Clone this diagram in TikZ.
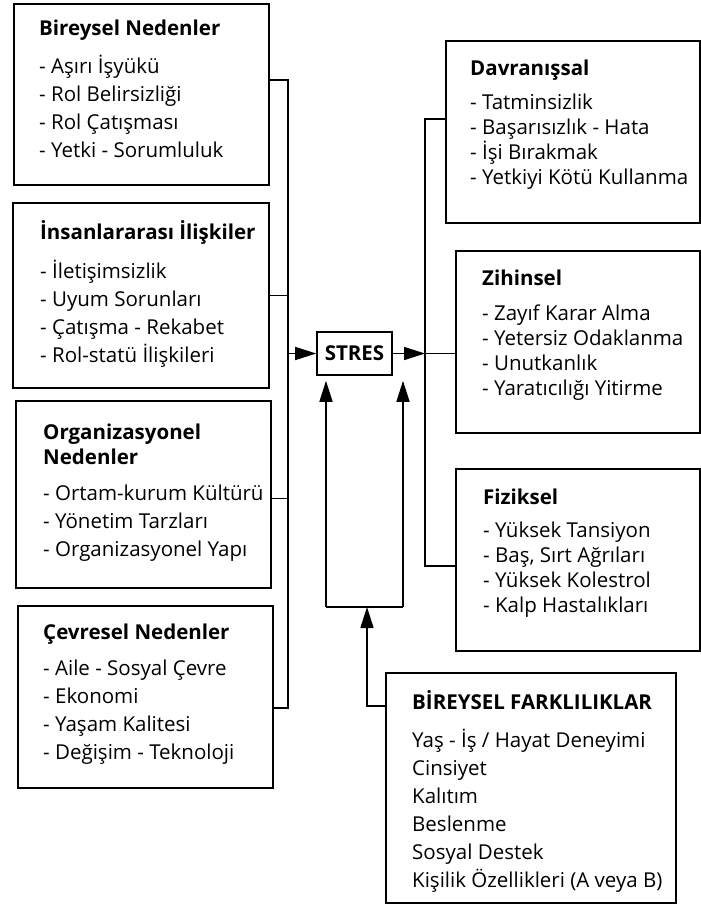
\documentclass[tikz,border=0pt]{standalone}
\usepackage{fontspec}
\setmainfont{Open Sans}
\usetikzlibrary{arrows.meta}

\begin{document}
\begin{tikzpicture}
      [%%%%%%%%%%%%%%%%%%%%%%%%%%%%%%
      x=1pt,y=-1pt,
      box/.style={rectangle,draw=black,line width=1.6pt,anchor=north west,inner sep=0pt},
      txt/.style={anchor=north west,align=left,inner sep=0pt,
        font=\fontsize{20.5}{28}\selectfont,execute at begin node={\rule{0pt}{19pt}}},
      txtr/.style={txt,font=\fontsize{20.5}{25}\selectfont},
      line/.style={draw=black,line width=1.6pt},
      arr/.style={line,-{Triangle[length=21pt,width=13pt]}},
      ]%%%%%%%%%%%%%%%%%%%%%%%%%%%%%%
      \useasboundingbox (0,0) rectangle (701,906);

      \node[box,minimum width=255pt,minimum height=181pt] (bireysel) at (13,3) {};
      \node[box,minimum width=256pt,minimum height=185pt] (insan) at (12,202) {};
      \node[box,minimum width=255pt,minimum height=187pt] (org) at (15,400) {};
      \node[box,minimum width=255pt,minimum height=182pt] (cevre) at (17,605) {};

      \node[box,minimum width=254pt,minimum height=182pt] (davr) at (445,40) {};
      \node[box,minimum width=244pt,minimum height=182pt] (zihin) at (455,250) {};
      \node[box,minimum width=244pt,minimum height=182pt] (fizik) at (455,468) {};
      \node[box,minimum width=290pt,minimum height=230pt] (fark) at (385,672) {};

      \node[box,anchor=center,minimum width=75pt,minimum height=43pt,
        font=\bfseries\fontsize{20.5}{24}\selectfont] (stres) at (354.5,353.5) {STRES};

      \node[txt] (bireyselyazi) at ([shift={(26,17)}]bireysel.north west)
        {\textbf{Bireysel Nedenler}\\[10pt]- Aşırı İşyükü\\- Rol Belirsizliği\\- Rol Çatışması\\- Yetki - Sorumluluk};
      \node[txt] (insanyazi) at ([shift={(28,18)}]insan.north west)
        {\textbf{İnsanlararası İlişkiler}\\[11pt]- İletişimsizlik\\- Uyum Sorunları\\- Çatışma - Rekabet\\- Rol-statü İlişkileri};
      \node[txt] (orgyazi) at ([shift={(28,24)}]org.north west)
        {\textbf{Organizasyonel}\\[-3pt]\textbf{Nedenler}\\[8pt]- Ortam-kurum Kültürü\\- Yönetim Tarzları\\- Organizasyonel Yapı};
      \node[txt] (cevreyazi) at ([shift={(26,19)}]cevre.north west)
        {\textbf{Çevresel Nedenler}\\[8pt]- Aile - Sosyal Çevre\\- Ekonomi\\- Yaşam Kalitesi\\- Değişim - Teknoloji};

      \node[txtr] (davryazi) at ([shift={(25,20)}]davr.north west)
        {\textbf{Davranışsal}\\[9pt]- Tatminsizlik\\- Başarısızlık - Hata\\- İşi Bırakmak\\- Yetkiyi Kötü Kullanma};
      \node[txtr] (zihinyazi) at ([shift={(27,20)}]zihin.north west)
        {\textbf{Zihinsel}\\[10pt]- Zayıf Karar Alma\\- Yetersiz Odaklanma\\- Unutkanlık\\- Yaratıcılığı Yitirme};
      \node[txtr] (fizikyazi) at ([shift={(28,21)}]fizik.north west)
        {\textbf{Fiziksel}\\[8pt]- Yüksek Tansiyon\\- Baş, Sırt Ağrıları\\- Yüksek Kolestrol\\- Kalp Hastalıkları};
      \node[txt] (farkyazi) at ([shift={(27,18)}]fark.north west)
        {\textbf{BİREYSEL FARKLILIKLAR}\\[10pt]Yaş - İş / Hayat Deneyimi\\Cinsiyet\\Kalıtım\\Beslenme\\Sosyal Destek\\Kişilik Özellikleri (A veya B)};

      \coordinate (solust) at (288,80);
      \coordinate (solalt) at (288,708);
      \coordinate (sagust) at (425,119);
      \coordinate (sagalt) at (425,566);
      \coordinate (altsol) at (326,607);
      \coordinate (altsag) at (403,607);
      \coordinate (farkkose) at (367,706);
      \coordinate (uc) at ([yshift=-5pt]stres.south);

      \draw[line] (bireysel.east |- solust) -- (solust) -- (solalt) -- (cevre.east |- solalt);
      \draw[line] (insan.east) -- (insan.east -| solust);
      \draw[line] ([yshift=-4pt]org.east) -- ([yshift=-4pt]org.east -| solust);
      \draw[arr] (stres.west -| solust) -- (stres.west);

      \draw[line] (davr.west |- sagust) -- (sagust) -- (sagalt) -- (fizik.west |- sagalt);
      \draw[arr] (stres.east) -- (stres.east -| sagust);
      \draw[line] (stres.east -| sagust) -- (zihin.west |- stres.east);

      \draw[line] (altsol) -- (altsag);
      \draw[arr] (altsol) -- (altsol |- uc);
      \draw[arr] (altsag) -- (altsag |- uc);
      \draw[arr] (fark.west |- farkkose) -- (farkkose) -- (farkkose |- altsol);
\end{tikzpicture}
\end{document}
